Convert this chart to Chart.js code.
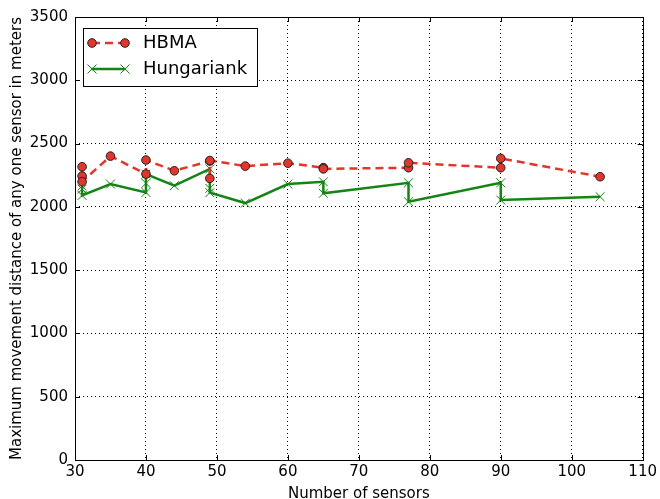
<!DOCTYPE html>
<html>
<head>
<meta charset="utf-8">
<script src="https://cdn.jsdelivr.net/npm/chart.js"></script>
<style>
  body { margin: 0; background: #fff; }
  #wrap { width: 660px; height: 499px; }
</style>
</head>
<body>
<div id="wrap"><canvas id="chart" width="660" height="499"></canvas></div>
<script>
// values (several runs share the same sensor count)
const hbmaX = [31, 31, 31, 35, 40, 40, 44, 49, 49, 49, 54, 60, 65, 65, 77, 77, 90, 90, 104];
const hbmaY = [2317, 2243, 2199, 2401, 2259, 2370, 2285, 2362, 2225, 2366, 2322, 2345, 2310, 2300, 2309, 2348, 2309, 2383, 2238];

const hungX = [31, 31, 31, 35, 40, 40, 40, 44, 49, 49, 49, 54, 60, 65, 65, 77, 77, 90, 90, 104];
const hungY = [2165, 2140, 2090, 2180, 2114, 2186, 2258, 2167, 2300, 2146, 2112, 2030, 2180, 2198, 2107, 2190, 2040, 2190, 2054, 2080];

const xTicks = [30, 40, 50, 60, 70, 80, 90, 100, 110];
const yTicks = [0, 500, 1000, 1500, 2000, 2500, 3000, 3500];

const RED = '#e2352b';
const GREEN = '#148414';
const FONT = "'DejaVu Sans', sans-serif";

const toPts = (xs, ys) => xs.map((x, i) => ({ x: x, y: ys[i] }));

// frame, inward ticks on all four sides, and the boxed legend (matplotlib look)
const frameAndLegend = {
  id: 'frameAndLegend',
  afterDraw(chart) {
    const ctx = chart.ctx;
    const a = chart.chartArea;
    const sx = chart.scales.x, sy = chart.scales.y;
    ctx.save();
    ctx.strokeStyle = '#000';
    ctx.lineWidth = 1;
    ctx.beginPath();
    xTicks.forEach(v => {
      const px = Math.round(sx.getPixelForValue(v)) + 0.5;
      ctx.moveTo(px, a.bottom); ctx.lineTo(px, a.bottom - 5);
      ctx.moveTo(px, a.top); ctx.lineTo(px, a.top + 5);
    });
    yTicks.forEach(v => {
      const py = Math.round(sy.getPixelForValue(v)) + 0.5;
      ctx.moveTo(a.left, py); ctx.lineTo(a.left + 5, py);
      ctx.moveTo(a.right, py); ctx.lineTo(a.right - 5, py);
    });
    ctx.stroke();
    ctx.strokeRect(Math.round(a.left) + 0.5, Math.round(a.top) + 0.5,
                   Math.round(a.right - a.left), Math.round(a.bottom - a.top));

    // legend box
    const lx = a.left + 8, ly = a.top + 11, lw = 174, lh = 58;
    ctx.fillStyle = '#fff';
    ctx.fillRect(lx, ly, lw, lh);
    ctx.strokeRect(lx + 0.5, ly + 0.5, lw, lh);

    const x1 = lx + 9, x2 = lx + 42;
    const yA = ly + 15, yB = ly + 41;
    // HBMA sample
    ctx.strokeStyle = RED;
    ctx.lineWidth = 2.5;
    ctx.setLineDash([8, 5]);
    ctx.beginPath(); ctx.moveTo(x1, yA); ctx.lineTo(x2, yA); ctx.stroke();
    ctx.setLineDash([]);
    [x1, x2].forEach(px => {
      ctx.beginPath();
      ctx.arc(px, yA, 4.3, 0, Math.PI * 2);
      ctx.fillStyle = RED; ctx.fill();
      ctx.lineWidth = 1; ctx.strokeStyle = '#222'; ctx.stroke();
    });
    // Hungariank sample
    ctx.strokeStyle = GREEN;
    ctx.lineWidth = 2.5;
    ctx.beginPath(); ctx.moveTo(x1, yB); ctx.lineTo(x2, yB); ctx.stroke();
    ctx.lineWidth = 1;
    [x1, x2].forEach(px => {
      ctx.beginPath();
      ctx.moveTo(px - 4.5, yB - 4.5); ctx.lineTo(px + 4.5, yB + 4.5);
      ctx.moveTo(px - 4.5, yB + 4.5); ctx.lineTo(px + 4.5, yB - 4.5);
      ctx.stroke();
    });

    ctx.fillStyle = '#000';
    ctx.font = '18px ' + FONT;
    ctx.textBaseline = 'middle';
    ctx.textAlign = 'left';
    ctx.fillText('HBMA', lx + 60, yA);
    ctx.fillText('Hungariank', lx + 60, yB);
    ctx.restore();
  }
};

new Chart('chart', {
  type: 'scatter',
  data: {
    datasets: [
      {
        label: 'HBMA',
        data: toPts(hbmaX, hbmaY),
        showLine: true,
        borderColor: RED,
        borderWidth: 2.5,
        borderDash: [8, 5],
        backgroundColor: RED,
        pointStyle: 'circle',
        pointRadius: 4.3,
        pointBorderColor: '#222',
        pointBorderWidth: 1,
        tension: 0
      },
      {
        label: 'Hungariank',
        data: toPts(hungX, hungY),
        showLine: true,
        borderColor: GREEN,
        borderWidth: 2.5,
        backgroundColor: GREEN,
        pointStyle: 'crossRot',
        pointRadius: 6.3,
        pointBorderColor: GREEN,
        pointBorderWidth: 1,
        tension: 0
      }
    ]
  },
  options: {
    responsive: false,
    animation: false,
    layout: { padding: { left: 0, right: 15, top: 17, bottom: 0 } },
    plugins: {
      legend: { display: false },
      tooltip: { enabled: false }
    },
    scales: {
      x: {
        type: 'linear',
        min: 30,
        max: 110,
        afterBuildTicks: s => { s.ticks = xTicks.map(v => ({ value: v })); },
        afterFit: s => { s.height = 39; },
        ticks: { color: '#000', font: { family: FONT, size: 15 }, padding: 3, maxRotation: 0,
                 callback: v => String(v) },
        grid: { color: '#000', lineWidth: 1, drawTicks: false },
        border: { display: false, dash: [1, 3] },
        title: {
          display: true,
          text: 'Number of sensors',
          color: '#000',
          font: { family: FONT, size: 15 },
          padding: { top: 0, bottom: -4 }
        }
      },
      y: {
        min: 0,
        max: 3500,
        afterBuildTicks: s => { s.ticks = yTicks.map(v => ({ value: v })); },
        afterFit: s => { s.width = 75; },
        ticks: { color: '#000', font: { family: FONT, size: 15 }, padding: 7,
                 callback: v => String(v) },
        grid: { color: '#000', lineWidth: 1, drawTicks: false },
        border: { display: false, dash: [1, 3] },
        title: {
          display: true,
          text: 'Maximum movement distance of any one sensor in meters',
          color: '#000',
          font: { family: FONT, size: 15 },
          padding: { top: 8, bottom: 0 }
        }
      }
    }
  },
  plugins: [frameAndLegend]
});
</script>
</body>
</html>
